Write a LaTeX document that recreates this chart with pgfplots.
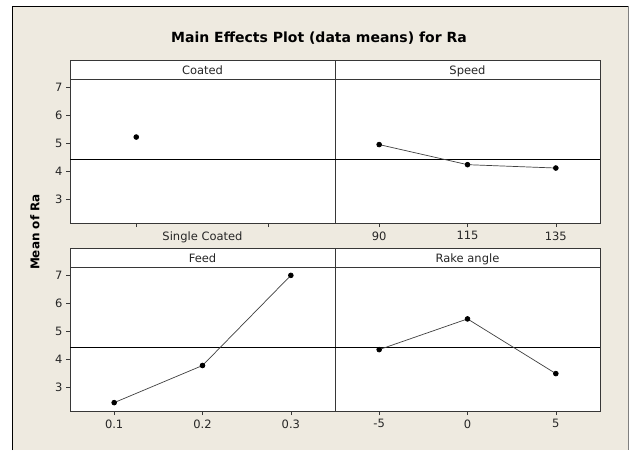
\documentclass[border=0pt]{standalone}
\usepackage{pgfplots}
\pgfplotsset{compat=1.18}
\usepackage{fontspec}
\setmainfont{DejaVu Sans}
\definecolor{bg}{RGB}{238,234,224}
\definecolor{frm}{RGB}{55,55,55}
\pgfplotsset{
  panel/.style={
    scale only axis, width=265pt, height=144pt,
    xmin=0.5, ymin=2.15, ymax=7.31,
    axis background/.style={fill=white},
    axis line style={frm, line width=0.9pt},
    tick style={frm, line width=0.6pt},
    tick align=outside,
    major tick length=4pt,
    ytick={3,4,5,6,7},
    xtick pos=bottom, ytick pos=left,
    tick label style={font=\fontsize{11.5}{13}\selectfont, text=black!85},
    xticklabel style={yshift=-1pt},
    /pgf/number format/assume math mode=true,
  },
  dataline/.style={black!75, line width=0.7pt, mark=*, mark size=2.4pt, mark options={black, solid}},
  meanline/.style={black, line width=0.6pt, forget plot},
}
\begin{document}
\begin{tikzpicture}
\useasboundingbox (0,0) rectangle (629pt,-450pt);
\fill[white] (0,0) rectangle (629pt,-450pt);
\fill[bg] (12.5pt,-6pt) rectangle (628pt,-450pt);
\draw[black, line width=1pt] (12.5pt,-450pt) -- (12.5pt,-6pt) -- (629pt,-6pt);
\draw[gray, line width=0.8pt] (628pt,-6pt) -- (628pt,-450pt);

% Coated
\begin{axis}[panel, name=a1, at={(70pt,-223pt)}, anchor=south west,
  xmax=2.5, xtick={1,2}, xticklabels={{},{}},
  extra x ticks={1.5}, extra x tick labels={Single Coated},
  extra x tick style={major tick style={draw=none}}]
\addplot[meanline] coordinates {(0.5,4.43) (2.5,4.43)};
\addplot[dataline] coordinates {(1,5.23)};
\end{axis}

% Speed
\begin{axis}[panel, name=a2, at={(335pt,-223pt)}, anchor=south west,
  xmax=3.5, xtick={1,2,3}, xticklabels={90,115,135}, ytick=\empty]
\addplot[meanline] coordinates {(0.5,4.43) (3.5,4.43)};
\addplot[dataline] coordinates {(1,4.96) (2,4.24) (3,4.12)};
\end{axis}

% Feed
\begin{axis}[panel, name=a3, at={(70pt,-411pt)}, anchor=south west,
  xmax=3.5, xtick={1,2,3}, xticklabels={0.1,0.2,0.3}]
\addplot[meanline] coordinates {(0.5,4.43) (3.5,4.43)};
\addplot[dataline] coordinates {(1,2.45) (2,3.78) (3,7.01)};
\end{axis}

% Rake angle
\begin{axis}[panel, name=a4, at={(335pt,-411pt)}, anchor=south west,
  xmax=3.5, xtick={1,2,3}, xticklabels={-5,0,5}, ytick=\empty]
\addplot[meanline] coordinates {(0.5,4.43) (3.5,4.43)};
\addplot[dataline] coordinates {(1,4.35) (2,5.45) (3,3.49)};
\end{axis}

\foreach \a/\t in {a1/Coated, a2/Speed, a3/Feed, a4/Rake angle}{
  \draw[frm, line width=0.9pt, fill=white] (\a.north west) rectangle ([yshift=18.5pt]\a.north east);
  \node[anchor=base, font=\fontsize{11.5}{13}\selectfont, text=black!85] at ([yshift=5pt]\a.north) {\t};
}

\node[font=\bfseries\fontsize{14}{16}\selectfont] at (319pt,-38pt) {Main Effects Plot (data means) for Ra};
\node[font=\bfseries\fontsize{12}{14}\selectfont, rotate=90] at (35pt,-232pt) {Mean of Ra};
\end{tikzpicture}
\end{document}
